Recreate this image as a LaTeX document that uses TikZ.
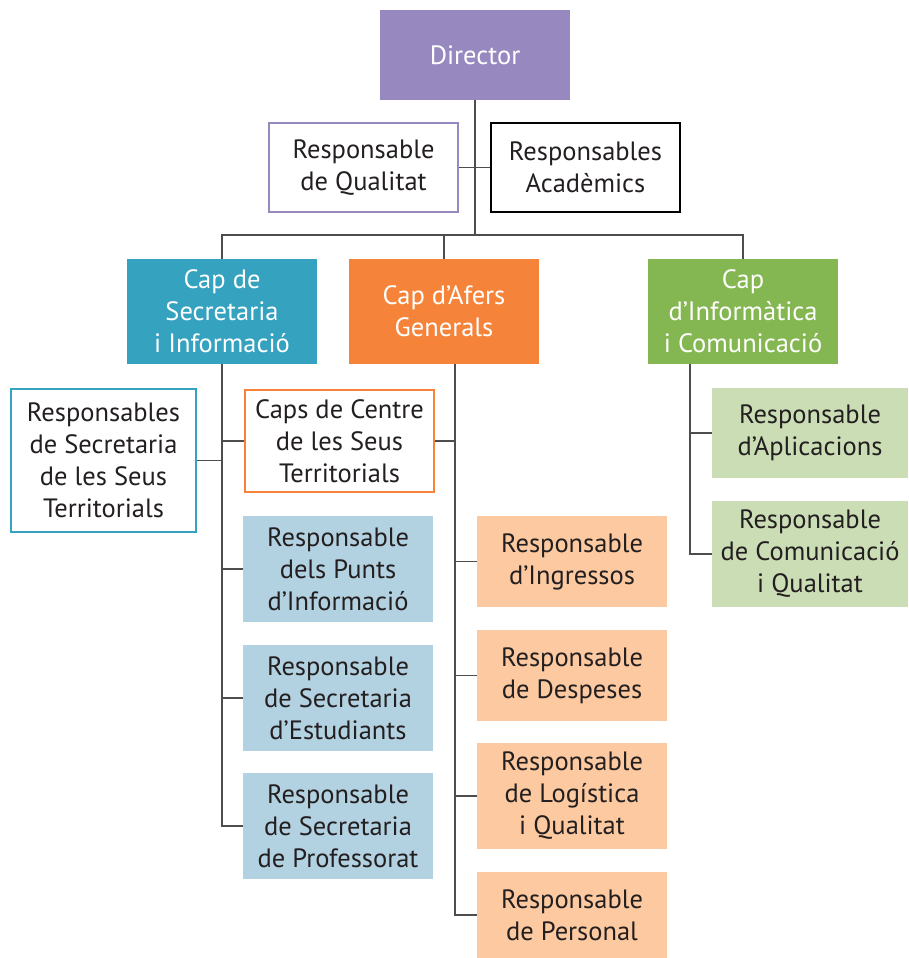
\documentclass[tikz,border=0pt]{standalone}
\usepackage{fontspec}
\setmainfont{PT Sans}
\usetikzlibrary{calc}
\definecolor{cdir}{HTML}{9788C0}
\definecolor{csec}{HTML}{35A2C0}
\definecolor{cafe}{HTML}{F5843A}
\definecolor{cinf}{HTML}{84B751}
\definecolor{lsec}{HTML}{B3D2E1}
\definecolor{lafe}{HTML}{FCC9A0}
\definecolor{linf}{HTML}{CADDB5}
\definecolor{ctxt}{HTML}{231F20}
\definecolor{cline}{HTML}{4D4D4D}
\begin{document}
\begin{tikzpicture}[x=1pt,y=-1pt,
  box/.style={rectangle,inner sep=0pt,align=center,text=ctxt,
    font=\fontsize{26.5}{32}\selectfont},
  head/.style={box,text=white},
  conn/.style={draw=cline,line width=1.6pt}]
\useasboundingbox (0,0) rectangle (908,958);
% boxes: centre, width, height
\node[head,fill=cdir,minimum width=190,minimum height=90] (dir) at (475,55) {Director};
\node[box,draw=cdir,line width=2.5pt,minimum width=189,minimum height=89] (qual) at (363.5,167.5) {Responsable\\de Qualitat};
\node[box,draw=black,line width=1.2pt,minimum width=189,minimum height=89] (acad) at (585.5,167.5) {Responsables\\Acadèmics};
\node[head,fill=csec,minimum width=190,minimum height=105] (sec) at (222,311.5) {Cap de\\Secretaria\\i Informació};
\node[head,fill=cafe,minimum width=190,minimum height=105] (afe) at (444,311.5) {Cap d’Afers\\Generals};
\node[head,fill=cinf,minimum width=190,minimum height=105] (inf) at (743,311.5) {Cap\\d’Informàtica\\i Comunicació};
% secretaria column
\node[box,draw=csec,line width=2.5pt,minimum width=185,minimum height=143] (rsec) at (103.5,460.5) {Responsables\\de Secretaria\\de les Seus\\Territorials};
\node[box,draw=cafe,line width=2.5pt,minimum width=189,minimum height=102] (caps) at (339.5,441) {Caps de Centre\\de les Seus\\Territorials};
\node[box,fill=lsec,minimum width=190,minimum height=106] (punt) at (338,569) {Responsable\\dels Punts\\d’Informació};
\node[box,fill=lsec,minimum width=190,minimum height=106] (estu) at (338,698) {Responsable\\de Secretaria\\d’Estudiants};
\node[box,fill=lsec,minimum width=190,minimum height=106] (prof) at (338,826) {Responsable\\de Secretaria\\de Professorat};
% afers column
\node[box,fill=lafe,minimum width=190,minimum height=91] (ingr) at (572,561.5) {Responsable\\d’Ingressos};
\node[box,fill=lafe,minimum width=190,minimum height=91] (desp) at (572,675.5) {Responsable\\de Despeses};
\node[box,fill=lafe,minimum width=190,minimum height=106] (logi) at (572,796) {Responsable\\de Logística\\i Qualitat};
\node[box,fill=lafe,minimum width=190,minimum height=86] (pers) at (572,915) {Responsable\\de Personal};
% informatica column
\node[box,fill=linf,minimum width=196,minimum height=90] (apli) at (810,433) {Responsable\\d’Aplicacions};
\node[box,fill=linf,minimum width=196,minimum height=106] (comu) at (810,554) {Responsable\\de Comunicació\\i Qualitat};
% connectors
\coordinate (bus) at (475,235);
\coordinate (afeb) at (455,364);
\coordinate (infb) at (690,364);
\draw[conn] (dir.south) -- (bus);
\draw[conn] (qual.east) -- (acad.west);
\draw[conn] (sec.north) |- (bus) -| (inf.north);
\draw[conn] (afe.north) -- (afe.north |- bus);
\draw[conn] (sec.south) |- (prof.west);
\draw[conn] (rsec.east) -- (rsec.east -| sec.south);
\draw[conn] (caps.west) -- (caps.west -| sec.south);
\draw[conn] (punt.west) -- (punt.west -| sec.south);
\draw[conn] (estu.west) -- (estu.west -| sec.south);
\draw[conn] (afeb) |- (pers.west);
\draw[conn] (caps.east) -- (caps.east -| afeb);
\draw[conn] (ingr.west) -- (ingr.west -| afeb);
\draw[conn] (desp.west) -- (desp.west -| afeb);
\draw[conn] (logi.west) -- (logi.west -| afeb);
\draw[conn] (infb) |- (comu.west);
\draw[conn] (apli.west) -- (apli.west -| infb);
\end{tikzpicture}
\end{document}
